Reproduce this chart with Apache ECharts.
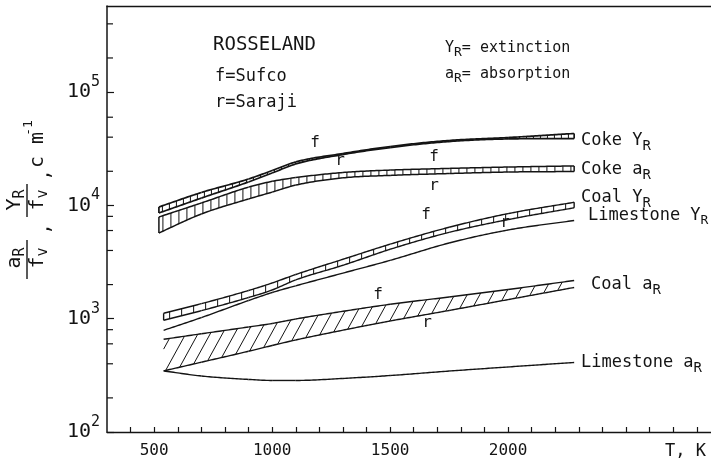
<!DOCTYPE html>
<html>
<head>
<meta charset="utf-8">
<script src="https://cdn.jsdelivr.net/npm/echarts@6/dist/echarts.min.js"></script>
<style>
  html, body { margin: 0; padding: 0; background: #fff; }
  #chart { width: 711px; height: 467px; }
</style>
</head>
<body>
<div id="chart"></div>
<script>
// Temperatures (K) at which the curves are tabulated
const tempsCoke  = [520, 700, 900, 1000, 1100, 1300, 1500, 1750, 2000, 2280];
const tempsOther = [540, 700, 900, 1000, 1100, 1300, 1500, 1750, 2000, 2280];

// Rosseland mean coefficients divided by volume fraction (cm^-1); f = Sufco, r = Saraji
const cokeExtF     = [9680, 13000, 17100, 20300, 24200, 28700, 33100, 37400, 39700, 43100];
const cokeExtR     = [8570, 11600, 16100, 19300, 23200, 28100, 32400, 36600, 38600, 38900];
const cokeAbsF     = [7900, 10500, 14500, 16300, 17600, 19500, 20500, 21200, 21800, 22300];
const cokeAbsR     = [5710, 8400, 11400, 13100, 15100, 17500, 18400, 19100, 19700, 19900];
const coalExtF     = [1116, 1357, 1774, 2066, 2455, 3344, 4547, 6410, 8465, 10650];
const coalExtR     = [968, 1177, 1538, 1792, 2200, 2960, 4098, 5778, 7493, 9524];
const limestoneExt = [790, 1023, 1447, 1703, 1951, 2526, 3270, 4657, 6067, 7357];
const coalAbsF     = [658, 736, 845, 907, 994, 1162, 1340, 1554, 1810, 2173];
const coalAbsR     = [346, 413, 516, 580, 649, 792, 954, 1182, 1474, 1886];
const limestoneAbs = [346, 312, 291, 285, 285, 297, 315, 345, 375, 411];

// Axis ticks
const xTickLabels = [500, 1000, 1500, 2000];
const yMinorTicks = [200, 400, 600, 800, 2000, 4000, 6000, 8000, 20000, 40000, 60000, 200000, 400000];

const INK = '#141414';
const MONO = "'DejaVu Sans Mono', 'Liberation Mono', monospace";

// Monotone cubic interpolation in pixel space (x increasing)
function monotone(xs, ys) {
  const n = xs.length, d = [], m = new Array(n);
  for (let i = 0; i < n - 1; i++) d.push((ys[i + 1] - ys[i]) / (xs[i + 1] - xs[i]));
  m[0] = d[0]; m[n - 1] = d[n - 2];
  for (let i = 1; i < n - 1; i++) m[i] = d[i - 1] * d[i] <= 0 ? 0 : (d[i - 1] + d[i]) / 2;
  for (let i = 0; i < n - 1; i++) {
    if (d[i] === 0) { m[i] = 0; m[i + 1] = 0; continue; }
    const a = m[i] / d[i], b = m[i + 1] / d[i], s = a * a + b * b;
    if (s > 9) { const t = 3 / Math.sqrt(s); m[i] = t * a * d[i]; m[i + 1] = t * b * d[i]; }
  }
  return function (x) {
    let i = 0;
    while (i < n - 2 && x > xs[i + 1]) i++;
    const h = xs[i + 1] - xs[i], t = (x - xs[i]) / h, t2 = t * t, t3 = t2 * t;
    return (2 * t3 - 3 * t2 + 1) * ys[i] + (t3 - 2 * t2 + t) * h * m[i] +
           (-2 * t3 + 3 * t2) * ys[i + 1] + (t3 - t2) * h * m[i + 1];
  };
}

// One custom series per band: two boundary curves plus hatching between them.
function bandSeries(name, temps, upper, lower, opt) {
  opt = opt || {};
  const lw = opt.lineWidth || 1.3;
  return {
    type: 'custom',
    name: name,
    silent: true,
    clip: false,
    data: temps.map((t, i) => [t, upper[i], lower ? lower[i] : upper[i]]),
    encode: { x: 0, y: [1, 2] },
    renderItem: function (params, api) {
      const i = params.dataIndex, n = temps.length;
      if (i >= n - 1) return null;
      const pu = temps.map((t, k) => api.coord([t, upper[k]]));
      const xs = pu.map(p => p[0]);
      const fu = monotone(xs, pu.map(p => p[1]));
      const fl = lower ? monotone(xs, temps.map((t, k) => api.coord([t, lower[k]])[1])) : null;
      const x0 = xs[i], x1 = xs[i + 1];
      const children = [];
      const sample = f => {
        const pts = [], steps = Math.max(2, Math.ceil((x1 - x0) / 2));
        for (let s = 0; s <= steps; s++) { const x = x0 + (x1 - x0) * s / steps; pts.push([x, f(x)]); }
        return pts;
      };
      const line = (a, b, w) => ({
        type: 'line', shape: { x1: a[0], y1: a[1], x2: b[0], y2: b[1] },
        style: { stroke: INK, lineWidth: w || 1 }
      });
      children.push({ type: 'polyline', shape: { points: sample(fu) }, style: { stroke: INK, lineWidth: lw, fill: null } });
      if (fl) children.push({ type: 'polyline', shape: { points: sample(fl) }, style: { stroke: INK, lineWidth: lw, fill: null } });

      if (fl && opt.hatch) {
        const sp = opt.spacing, xStart = xs[0], xEnd = xs[n - 1];
        if (opt.hatch === 'vertical') {
          for (let x = xStart + sp * 0.5; x < xEnd; x += sp) {
            if (x >= x0 && x < x1) children.push(line([x, fu(x)], [x, fl(x)], opt.hatchWidth));
          }
        } else if (opt.hatch === 'diagonal') {
          const k = opt.slant;
          for (let xb = xStart - 40; xb < xEnd; xb += sp) {
            let sx, sy;
            if (xb < xStart) {
              if (i !== 0) continue;
              sx = xStart; sy = fl(xStart) - (xStart - xb) / k;
              if (sy <= fu(xStart)) continue;
            } else {
              if (!(xb >= x0 && xb < x1)) continue;
              sx = xb; sy = fl(xb);
            }
            let t = sy - fu(sx);
            for (let it = 0; it < 10; it++) t = sy - fu(Math.min(xEnd, sx + k * t));
            const ex = sx + k * t;
            if (ex > xEnd) continue;
            children.push(line([sx, sy], [ex, sy - t], opt.hatchWidth));
          }
        }
        if (opt.caps) {
          if (i === 0) children.push(line([xStart, fu(xStart)], [xStart, fl(xStart)], lw));
          if (i === n - 2) children.push(line([xEnd, fu(xEnd)], [xEnd, fl(xEnd)], lw));
        }
      }
      return { type: 'group', children: children };
    }
  };
}

function sub(main, s, size, subSize, drop) {
  return {
    text: '{m|' + main + '}{s|' + s + '}',
    rich: {
      m: { fontSize: size, fontFamily: MONO, fill: INK },
      s: { fontSize: subSize, fontFamily: MONO, fill: INK, padding: [drop, 0, 0, 0] }
    }
  };
}

function textEl(x, y, style, extra) {
  return Object.assign({
    type: 'text', x: x, y: y, silent: true,
    style: Object.assign({ fill: INK, fontFamily: MONO, verticalAlign: 'middle', align: 'left' }, style)
  }, extra || {});
}

const chart = echarts.init(document.getElementById('chart'), null, { renderer: 'canvas' });

const ROT = { rotation: Math.PI / 2 };
const graphics = [
  textEl(213, 45, { text: 'ROSSELAND', fontSize: 19 }),
  textEl(215, 77, { text: 'f=Sufco', fontSize: 17 }),
  textEl(215, 103, { text: 'r=Saraji', fontSize: 17 }),
  textEl(445, 48, Object.assign(sub('Y', 'R', 15, 13, 9), { text: '{m|Y}{s|R}{m|= extinction}' })),
  textEl(445, 74, Object.assign(sub('a', 'R', 15, 13, 9), { text: '{m|a}{s|R}{m|= absorption}' })),

  // curve end labels
  textEl(581, 141, sub('Coke Y', 'R', 17, 14, 10)),
  textEl(581, 170, sub('Coke a', 'R', 17, 14, 10)),
  textEl(581, 198, sub('Coal Y', 'R', 17, 14, 10)),
  textEl(588, 216, sub('Limestone Y', 'R', 17, 13, 10)),
  textEl(591, 285, sub('Coal a', 'R', 17, 14, 10)),
  textEl(581, 363, sub('Limestone a', 'R', 17, 14, 10)),

  // f / r markers along the bands
  textEl(315, 143, { text: 'f', fontSize: 16, align: 'center' }),
  textEl(340, 161, { text: 'r', fontSize: 16, align: 'center' }),
  textEl(434, 157, { text: 'f', fontSize: 16, align: 'center' }),
  textEl(434, 186, { text: 'r', fontSize: 16, align: 'center' }),
  textEl(426, 215, { text: 'f', fontSize: 16, align: 'center' }),
  textEl(505, 223, { text: 'r', fontSize: 16, align: 'center' }),
  textEl(378, 295, { text: 'f', fontSize: 16, align: 'center' }),
  textEl(427, 323, { text: 'r', fontSize: 16, align: 'center' }),

  // axis title, x
  textEl(665, 452, { text: 'T, K', fontSize: 17 }),

  // axis title, y (reads bottom to top): a_R/f_v , Y_R/f_v , c m^-1
  textEl(15, 258, Object.assign(sub('a', 'R', 20, 15, 11), { align: 'center' }), ROT),
  { type: 'line', silent: true, shape: { x1: 27, y1: 240, x2: 27, y2: 279 }, style: { stroke: INK, lineWidth: 1.4 } },
  textEl(38, 258, Object.assign(sub('f', 'v', 20, 15, 11), { align: 'center' }), ROT),
  textEl(44, 229, { text: ',', fontSize: 20, align: 'center' }, ROT),
  textEl(15, 200, Object.assign(sub('Y', 'R', 20, 15, 11), { align: 'center' }), ROT),
  { type: 'line', silent: true, shape: { x1: 27, y1: 184, x2: 27, y2: 217 }, style: { stroke: INK, lineWidth: 1.4 } },
  textEl(38, 200, Object.assign(sub('f', 'v', 20, 15, 11), { align: 'center' }), ROT),
  textEl(44, 175, { text: ',', fontSize: 20, align: 'center' }, ROT),
  textEl(38, 150, { text: 'c m', fontSize: 20, align: 'center' }, ROT),
  textEl(29, 128, { text: '-1', fontSize: 13, align: 'center' }, ROT)
];

chart.setOption({
  animation: false,
  backgroundColor: '#fff',
  grid: { left: 107, top: 6, right: 0, bottom: 35, containLabel: false, outerBoundsMode: 'none' },
  xAxis: [{
    type: 'value', min: 300, max: 2860, interval: 100,
    axisLine: { lineStyle: { color: INK, width: 1.3 } },
    axisTick: { inside: true, length: 5, lineStyle: { color: INK, width: 1.2 } },
    splitLine: { show: false },
    axisLabel: {
      interval: 0, showMaxLabel: false, showMinLabel: false, margin: 11,
      color: INK, fontFamily: MONO, fontSize: 16,
      formatter: v => xTickLabels.indexOf(v) >= 0 ? String(v) : ''
    }
  }, {
    type: 'value', position: 'top', min: 300, max: 2860,
    axisLine: { show: true, lineStyle: { color: INK, width: 1.3 } },
    axisTick: { show: false }, axisLabel: { show: false }, splitLine: { show: false }
  }],
  yAxis: {
    type: 'log', logBase: 10, min: 100, max: 575000,
    axisLine: { show: true, lineStyle: { color: INK, width: 1.5 } },
    axisTick: { inside: true, length: 7, lineStyle: { color: INK, width: 1.2 } },
    splitLine: { show: false },
    axisLabel: {
      margin: 7, color: INK, showMaxLabel: false,
      formatter: v => '{b|10}{e|' + Math.round(Math.log10(v)) + '}',
      rich: {
        b: { fontSize: 20, fontFamily: MONO, color: INK },
        e: { fontSize: 15, fontFamily: MONO, color: INK, padding: [0, 0, 20, 0] }
      }
    }
  },
  graphic: graphics,
  series: [
    {
      type: 'custom', name: 'minor ticks', silent: true, clip: false,
      data: yMinorTicks.map(v => [300, v]),
      renderItem: function (params, api) {
        const p = api.coord([300, api.value(1)]);
        return { type: 'line', shape: { x1: p[0], y1: p[1], x2: p[0] + 6, y2: p[1] }, style: { stroke: INK, lineWidth: 1.2 } };
      }
    },
    bandSeries('Coke a_R', tempsCoke, cokeAbsF, cokeAbsR, { hatch: 'vertical', spacing: 8, caps: true, lineWidth: 1.5 }),
    bandSeries('Coke Y_R', tempsCoke, cokeExtF, cokeExtR, { hatch: 'vertical', spacing: 7, caps: true, lineWidth: 1.7 }),
    bandSeries('Coal Y_R', tempsOther, coalExtF, coalExtR, { hatch: 'vertical', spacing: 12, caps: true, lineWidth: 1.4 }),
    bandSeries('Limestone Y_R', tempsOther, limestoneExt, null, { lineWidth: 1.4 }),
    bandSeries('Coal a_R', tempsOther, coalAbsF, coalAbsR, { hatch: 'diagonal', spacing: 14, slant: 0.55, lineWidth: 1.4 }),
    bandSeries('Limestone a_R', tempsOther, limestoneAbs, null, { lineWidth: 1.4 })
  ]
});
</script>
</body>
</html>
